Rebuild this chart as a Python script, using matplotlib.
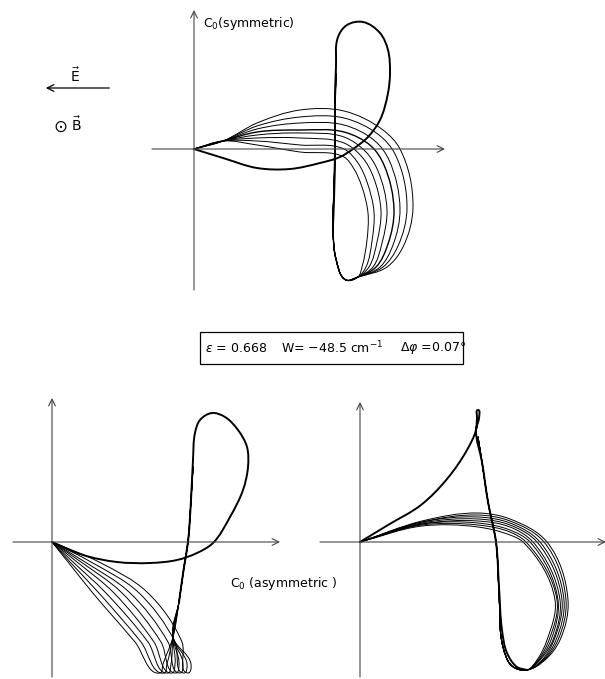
import numpy as np
import matplotlib.pyplot as plt
from matplotlib.path import Path
from matplotlib.patches import PathPatch, Rectangle

W, H = 605, 679

# ---- top panel: C0(symmetric) trajectories (units relative to origin) ----
top_thick_x = [0, 29, 63, 96, 126, 146, 159, 173, 186, 194, 196, 194, 186, 169, 153, 144, 142, 141, 141, 140, 139]
top_thick_y = [0, -9, -19, -20, -14, -8, 0, 11, 29, 56, 76, 99, 116, 127, 124, 112, 82, 49, -1, -51, -76]

top_lead = [(0, 0), (29, 8)]
top_b_y = [26, 23, 20, 17, 14, 11, 8, 4]             # at x = 63
top_c_y = [39, 32, 26, 19, 16, 11, 4, -3]            # at x = 106
top_d_y = [38, 31, 24, 17, 12, 6, 0, -8]             # at x = 150
top_e1_x = [189, 185, 181, 177, 172, 168, 164, 160]
top_e1_y = [19, 14, 8, 3, -3, -8, -14, -20]
top_e2_x = [206, 201, 195, 190, 184, 179, 173, 168]
top_e2_y = [0, -5, -11, -16, -22, -27, -33, -38]
top_f_x = [219, 213, 206, 200, 193, 187, 180, 174]
top_f_y = [-58, -59, -60, -61, -61, -62, -63, -64]
top_g_x = [209, 204, 199, 194, 188, 183, 178, 173]
top_g_y = [-98, -97, -96, -95, -94, -93, -92, -91]
top_g2_x = [193, 189, 186, 182, 179, 175, 172, 168]  # at y = -118
top_tail = [(164, -128), (152, -131), (142, -110), (139, -80), (140, -40), (141, 0), (141, 40), (142, 75)]

# ---- bottom-left panel: C0(asymmetric) ----
bl_thick_x = [0, 31, 65, 98, 125, 145, 161, 178, 191, 196, 195, 186, 173, 160, 148, 143, 141, 139, 136, 132, 127]
bl_thick_y = [0, -13, -20, -21, -18, -11, -1, 25, 52, 75, 95, 112, 125, 129, 122, 109, 82, 42, 0, -25, -60]

bl_x20 = [47, 39, 33, 29, 25, 21, 18, 16]             # at y = -20
bl_x50 = [95, 86, 77, 69, 61, 53, 46, 40]             # at y = -50
bl_x100 = [130, 123, 116, 109, 102, 96, 89, 83]       # at y = -100
bl_xb = [136, 132, 128, 124, 120, 116, 112, 108]      # at y = -131
bl_xt = [139, 135, 131, 127, 123, 119, 115, 111]      # at y = -122
bl_tail = [(121, -95), (127, -60), (132, -25), (136, 0), (139, 42), (141, 75)]

# ---- bottom-right panel ----
br_thick_x = [0, 28, 61, 87, 107, 116, 117, 118, 119, 116, 122, 128, 136, 139, 142, 147, 157, 167]
br_thick_y = [0, 17, 37, 63, 92, 112, 124, 132, 124, 112, 80, 40, 0, -45, -88, -111, -125, -128]

br_y1 = [21, 20, 20, 19, 18, 18, 17, 16]              # at x = 62
br_y2 = [29, 27, 25, 23, 21, 19, 17, 15]              # at x = 118
br_y3 = [23, 21, 19, 17, 15, 12, 10, 7]               # at x = 150
br_xc = [187, 184, 180, 177, 173, 170, 166, 163]      # at y = 0
br_xr = [208, 206, 204, 202, 200, 198, 197, 195]      # at y = -58
br_x5 = [200, 198, 196, 194, 193, 191, 189, 187]      # at y = -98
br_x6 = [185, 184, 183, 182, 180, 179, 178, 177]      # at y = -118
br_tail = [(167, -128), (152, -124), (143, -105), (139, -50), (136, 0), (128, 40), (122, 80), (118, 105)]


def smooth_path(pts):
    # knots joined by cubic Beziers, tangents from neighbouring chords
    P = np.asarray(pts, dtype=float)
    n = len(P)
    d = np.hypot(*np.diff(P, axis=0).T)
    d[d == 0] = 1e-9
    u = np.diff(P, axis=0) / d[:, None]
    T = np.zeros_like(P)
    T[0], T[-1] = u[0], u[-1]
    for i in range(1, n - 1):
        t = u[i - 1] + u[i]
        nt = np.hypot(*t)
        T[i] = t / nt if nt > 1e-9 else u[i]
    verts, codes = [P[0]], [Path.MOVETO]
    for i in range(n - 1):
        verts += [P[i] + T[i] * d[i] / 3, P[i + 1] - T[i + 1] * d[i] / 3, P[i + 1]]
        codes += [Path.CURVE4] * 3
    return Path(verts, codes)


def draw(ax, pts, lw):
    ax.add_patch(PathPatch(smooth_path(pts), fill=False, ec="black", lw=lw,
                           capstyle="round", joinstyle="round"))


def panel(fig, left, right, top, bottom, ox, oy):
    ax = fig.add_axes([left / W, 1 - bottom / H, (right - left) / W, (bottom - top) / H])
    ax.set_xlim(left - ox, right - ox)
    ax.set_ylim(oy - bottom, oy - top)
    ax.axis("off")
    return ax


def axes_arrows(ax, xl, xr, yb, yt):
    ap = dict(arrowstyle="->", color="#444444", lw=0.8, shrinkA=0, shrinkB=0,
              mutation_scale=12)
    ax.annotate("", xy=(xr, 0), xytext=(xl, 0), arrowprops=ap, annotation_clip=False)
    ax.annotate("", xy=(0, yt), xytext=(0, yb), arrowprops=ap, annotation_clip=False)


fig = plt.figure(figsize=(W / 100, H / 100), dpi=100)

# overlay in pixel units for the labels
lab = fig.add_axes([0, 0, 1, 1])
lab.set_xlim(0, W); lab.set_ylim(H, 0); lab.axis("off")

# top panel
ax = panel(fig, 140, 460, 5, 295, 194, 149)
axes_arrows(ax, -42, 251, -141, 139)
draw(ax, list(zip(top_thick_x, top_thick_y)), 1.4)
for k in range(len(top_b_y)):
    pts = top_lead + [(63, top_b_y[k]), (106, top_c_y[k]), (150, top_d_y[k]),
                      (top_e1_x[k], top_e1_y[k]), (top_e2_x[k], top_e2_y[k]),
                      (top_f_x[k], top_f_y[k]), (top_g_x[k], top_g_y[k]),
                      (top_g2_x[k], -118)] + top_tail
    draw(ax, pts, 1.0 if k == 3 else 0.7)

# bottom-left panel
ax = panel(fig, 5, 300, 390, 679, 52, 542)
axes_arrows(ax, -39, 228, -135, 144)
draw(ax, list(zip(bl_thick_x, bl_thick_y)), 1.4)
for k in range(len(bl_x20)):
    pts = [(0, 0), (bl_x20[k], -20), (bl_x50[k], -50), (bl_x100[k], -100),
           (bl_xb[k], -131), (bl_xt[k], -122)] + bl_tail
    draw(ax, pts, 0.7)

# bottom-right panel
ax = panel(fig, 310, 605, 390, 679, 360, 542)
axes_arrows(ax, -40, 246, -135, 140)
draw(ax, list(zip(br_thick_x, br_thick_y)), 1.4)
for k in range(len(br_y1)):
    pts = [(0, 0), (62, br_y1[k]), (118, br_y2[k]), (150, br_y3[k]),
           (br_xc[k], 0), (br_xr[k], -58), (br_x5[k], -98), (br_x6[k], -118)] + br_tail
    draw(ax, pts, 0.7)

# labels
lab.text(203, 24, r"C$_0$(symmetric)", fontsize=9, ha="left", va="center")
lab.text(230, 584, r"C$_0$ (asymmetric )", fontsize=9, ha="left", va="center")

lab.annotate("", xy=(43, 88), xytext=(112, 88),
             arrowprops=dict(arrowstyle="->", color="black", lw=0.9, mutation_scale=12))
lab.text(75, 76, r"$\vec{\mathrm{E}}$", fontsize=10, ha="center", va="center")
lab.text(60, 127, "\u2299", fontsize=12, ha="center", va="center")
lab.text(76, 125, r"$\vec{\mathrm{B}}$", fontsize=10, ha="center", va="center")

lab.add_patch(Rectangle((200, 332), 263, 32, fill=False, ec="black", lw=0.9))
lab.text(205, 348, r"$\epsilon$ = 0.668", fontsize=9, ha="left", va="center")
lab.text(281, 348, r"W= $-$48.5 cm$^{-1}$", fontsize=9, ha="left", va="center")
lab.text(400, 348, r"$\Delta\varphi$ =0.07°", fontsize=9, ha="left", va="center")

fig.savefig("out.png", dpi=100)
